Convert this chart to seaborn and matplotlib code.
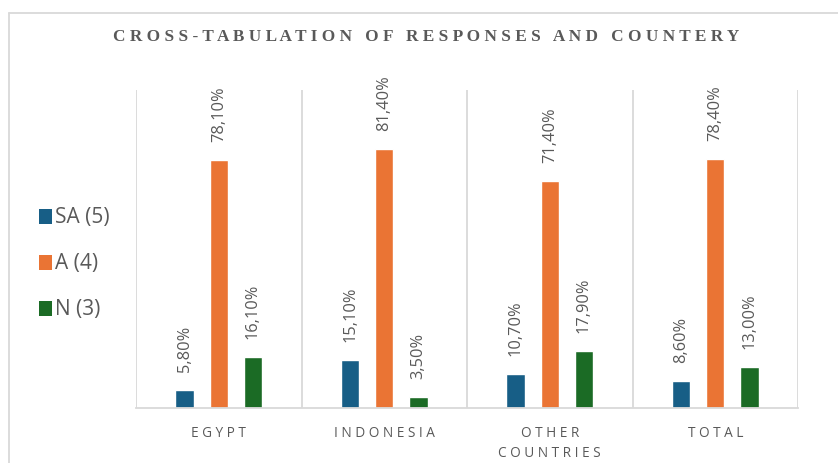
import matplotlib
matplotlib.use("Agg")
import matplotlib.pyplot as plt
import seaborn as sns
import pandas as pd
from matplotlib.patches import Patch
from matplotlib.lines import Line2D

categories = ["EGYPT", "INDONESIA", "OTHER\nCOUNTRIES", "TOTAL"]
series_names = ["SA (5)", "A (4)", "N (3)"]
sa_values = [5.8, 15.1, 10.7, 8.6]
a_values = [78.1, 81.4, 71.4, 78.4]
n_values = [16.1, 3.5, 17.9, 13.0]
colors = ["#175E86", "#EA7434", "#1B6B25"]
title = "CROSS-TABULATION OF RESPONSES AND COUNTERY"

rows = []
for name, vals in zip(series_names, [sa_values, a_values, n_values]):
    for c, v in zip(categories, vals):
        rows.append({"cat": c, "series": name, "value": v})
df = pd.DataFrame(rows)

sns.set_theme(style="white")
plt.rcParams["font.family"] = ["Open Sans", "DejaVu Sans"]

fig = plt.figure(figsize=(8.38, 4.63), dpi=100)
ax = fig.add_axes([136/838, 1-408/463, (798-136)/838, (408-90)/463])

sns.barplot(data=df, x="cat", y="value", hue="series", order=categories,
            hue_order=series_names, palette=colors, width=0.62, gap=0.47,
            ax=ax, legend=False, saturation=1, errorbar=None)

ax.set_ylim(0, 100)
ax.set_xlim(-0.5, 3.5)
for xv in [-0.5, 0.5, 1.5, 2.5, 3.5]:
    ax.axvline(xv, color="#D9D9D9", lw=1.3, zorder=0)
for s in ["top", "right", "left"]:
    ax.spines[s].set_visible(False)
ax.spines["bottom"].set_color("#D9D9D9")
ax.spines["bottom"].set_linewidth(1.3)
ax.set_yticks([])
ax.set_xlabel("")
ax.set_ylabel("")

def spaced(s):
    return "\n".join(" ".join(list(line)) for line in s.split("\n"))

ax.set_xticks(range(len(categories)))
ax.set_xticklabels([spaced(c) for c in categories], fontsize=9.8, color="#595959",
                   linespacing=1.45)
ax.tick_params(axis="x", length=0, pad=13)

for cont in ax.containers:
    labels = [f"{v:.2f}%".replace(".", ",") for v in cont.datavalues]
    ax.bar_label(cont, labels=labels, rotation=90, padding=13, fontsize=11.8,
                 color="#595959")

# title with letter spacing
ttl = "   ".join(" ".join(list(w)) for w in title.split(" "))
fig.text(426/838, 1-37/463, ttl, ha="center", va="center",
         family=["Liberation Serif"], fontweight="bold", fontsize=12.4,
         color="#595959")

handles = [Patch(facecolor=c, edgecolor="none") for c in colors]
leg = fig.legend(handles, series_names, loc="center left",
                 bbox_to_anchor=(20/838, 1-264/463), frameon=False,
                 fontsize=15, handlelength=0.65, handleheight=0.7,
                 handletextpad=0.15, labelspacing=1.2, labelcolor="#595959")

# outer chart border
fig.add_artist(Line2D([9/838, 1], [1-13/463, 1-13/463], color="#D9D9D9", lw=1.3,
                      transform=fig.transFigure))
fig.add_artist(Line2D([9/838, 9/838], [0, 1-13/463], color="#D9D9D9", lw=1.3,
                      transform=fig.transFigure))

fig.savefig("out.png", dpi=100)
